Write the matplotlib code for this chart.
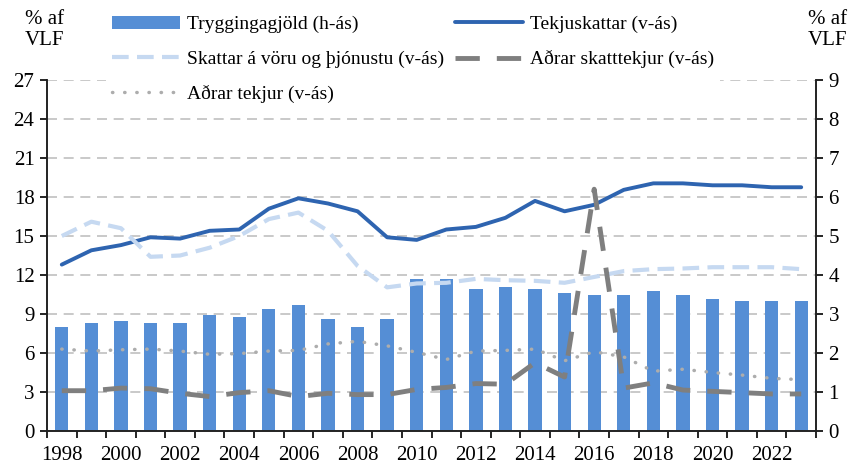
import matplotlib.pyplot as plt
import numpy as np

plt.rcParams['font.family'] = ['Liberation Serif', 'DejaVu Serif']

years = list(range(1998, 2024))
# Tryggingagjöld, right axis (% of GDP)
tryggingagjold = [2.67, 2.77, 2.82, 2.77, 2.77, 2.98, 2.93, 3.13, 3.23, 2.88, 2.67, 2.88, 3.90,
                  3.90, 3.64, 3.70, 3.64, 3.54, 3.49, 3.49, 3.59, 3.49, 3.39, 3.34, 3.34, 3.34]
# left axis series
tekjuskattar = [12.8, 13.9, 14.3, 14.9, 14.8, 15.4, 15.5, 17.1, 17.9, 17.5, 16.9, 14.9, 14.7,
                15.5, 15.7, 16.4, 17.7, 16.9, 17.4, 18.55, 19.05, 19.05, 18.9, 18.9, 18.75, 18.75]
skattar_voru = [15.0, 16.1, 15.6, 13.4, 13.5, 14.1, 15.0, 16.3, 16.8, 15.4, 12.7, 11.05, 11.35,
                11.4, 11.7, 11.6, 11.55, 11.4, 11.85, 12.3, 12.45, 12.5, 12.6, 12.6, 12.6, 12.45]
adrar_skatttekjur = [3.1, 3.1, 3.3, 3.25, 2.9, 2.65, 2.95, 3.1, 2.65, 2.9, 2.8, 2.8, 3.2,
                     3.35, 3.65, 3.6, 5.25, 4.15, 18.6, 3.3, 3.7, 3.15, 3.05, 2.95, 2.85, 2.85]
adrar_tekjur = [6.3, 6.15, 6.25, 6.3, 6.15, 5.9, 5.95, 6.15, 6.2, 6.7, 6.9, 6.55, 6.05,
                5.5, 6.15, 6.2, 6.3, 5.4, 6.1, 5.7, 4.6, 4.75, 4.5, 4.3, 4.05, 3.95]

x = np.arange(len(years))

fig = plt.figure(figsize=(8.51, 4.70), dpi=100)
ax = fig.add_axes([47/851, 1 - 431/470, (816 - 47)/851, (431 - 80)/470])
ax2 = ax.twinx()

# bars on the primary axes (right-hand scale), lines on the twin (left-hand scale)
bars = ax.bar(x, tryggingagjold, width=0.45, color='#558ED5', zorder=2)
ax.set_ylim(0, 9)
ax.set_yticks(range(0, 10))
ax.yaxis.tick_right()
ax.set_axisbelow(True)
ax.grid(axis='y', color='#C0C0C0', linestyle=(0, (6, 4)), linewidth=1.2)

l1, = ax2.plot(x, tekjuskattar, color='#2E64B0', lw=2.8, solid_capstyle='round')
l2, = ax2.plot(x, skattar_voru, color='#C6D9F1', lw=3, linestyle=(0, (4, 2)))
l3, = ax2.plot(x, adrar_skatttekjur, color='#7F7F7F', lw=3.5, linestyle=(0, (5, 3.5)))
l4, = ax2.plot(x, adrar_tekjur, color='#ADADAD', lw=2.5, linestyle=(0, (0.1, 3.4)),
               dash_capstyle='round')
ax2.set_ylim(0, 27)
ax2.set_yticks(range(0, 28, 3))
ax2.yaxis.tick_left()

ax.set_xlim(-0.5, len(years) - 0.5)
ax.set_xticks(x[::2])
ax.set_xticklabels([str(y) for y in years[::2]])
ax.set_xticks(np.arange(-0.5, len(years), 1), minor=True)
ax.tick_params(axis='x', which='major', length=0, pad=11, labelsize=15)
ax.tick_params(axis='x', which='minor', length=5, width=1.2, direction='out')
ax.tick_params(axis='y', length=5, width=1.2, labelsize=15, pad=4)
ax2.tick_params(axis='y', length=5, width=1.2, labelsize=15, pad=4)

for a in (ax, ax2):
    a.spines['top'].set_visible(False)
    for s in ('left', 'right', 'bottom'):
        a.spines[s].set_linewidth(1.2)
        a.spines[s].set_color('#222222')

fig.text(45/851, 1 - 30/470, '% af\nVLF', ha='center', va='center', fontsize=15, linespacing=1.1)
fig.text(828/851, 1 - 30/470, '% af\nVLF', ha='center', va='center', fontsize=15, linespacing=1.1)

leg = fig.legend([bars, l2, l4, l1, l3],
                 ['Tryggingagjöld (h-ás)', 'Skattar á vöru og þjónustu (v-ás)', 'Aðrar tekjur (v-ás)',
                  'Tekjuskattar (v-ás)', 'Aðrar skatttekjur (v-ás)'],
                 ncol=2, loc='upper left', bbox_to_anchor=(96/851, 1.0),
                 frameon=True, fancybox=False, edgecolor='none', facecolor='white', framealpha=1,
                 fontsize=14, handlelength=3.5, handletextpad=0.36, columnspacing=0.6,
                 labelspacing=0.88, borderpad=0.3)

fig.savefig('out.png', dpi=100)
